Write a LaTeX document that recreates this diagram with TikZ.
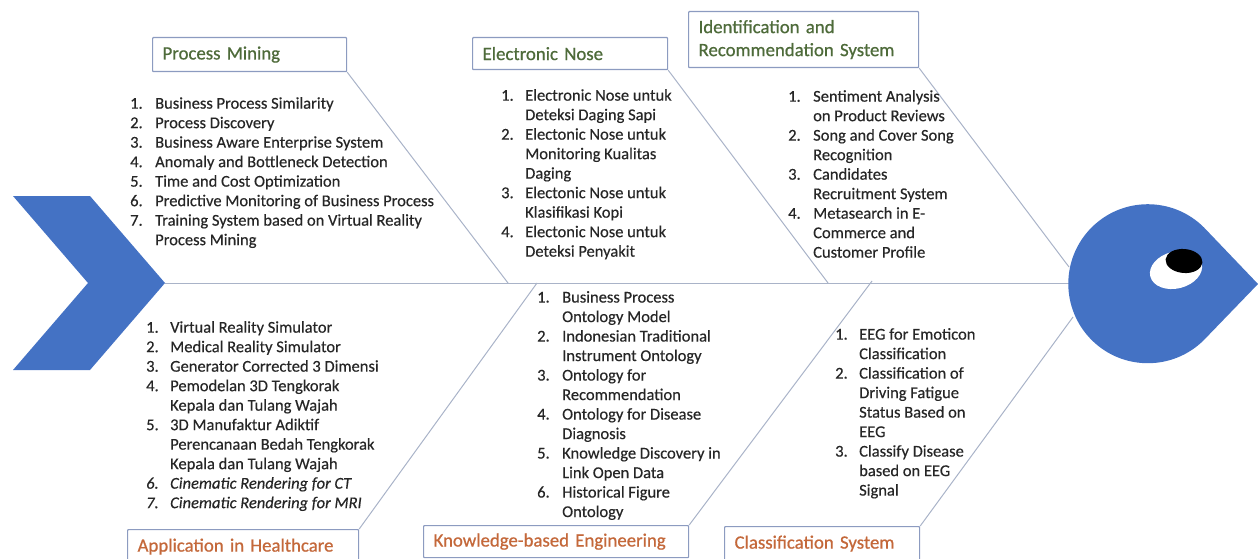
\documentclass[tikz,border=0pt]{standalone}
\usepackage{fontspec}
\setmainfont{Carlito}[FakeBold=0.4]
\newfontfamily\titlefont{Carlito}[FakeBold=0.7]
\newcommand{\li}[2]{\makebox[\listindent][l]{#1}#2}
\newlength{\listindent}
\definecolor{fishblue}{HTML}{4472C4}
\definecolor{bonegrey}{HTML}{A9B3C8}
\definecolor{boxedge}{HTML}{8C9BC0}
\definecolor{titlegreen}{HTML}{4E6B3A}
\definecolor{titleorange}{HTML}{C4683A}
\definecolor{listtext}{HTML}{262626}
\tikzset{
  x=1pt,y=-1pt,
  bone/.style={draw=bonegrey,line width=1pt},
  fishpart/.style={fill=fishblue,draw=none},
  titlebox/.style={draw=boxedge,line width=1.2pt,fill=white,anchor=north west,inner xsep=10pt,inner ysep=0pt,align=left,
    font=\titlefont\fontsize{18.8}{23}\selectfont,rounded corners=0.8pt},
  greentitle/.style={titlebox,text=titlegreen},
  orangetitle/.style={titlebox,text=titleorange},
  listnode/.style={anchor=north west,inner sep=0pt,align=left,text=listtext,font=\fontsize{16.5}{19.5}\selectfont},
}
\begin{document}
\begin{tikzpicture}
\useasboundingbox (0,0) rectangle (1258,559);
% coordinates on the spine
\coordinate (tailtip) at (165,283);
\coordinate (headleft) at (1069,283);
\coordinate (j1) at (508,283);
\coordinate (j2) at (828,283);
\coordinate (j3) at (1069,267);
\coordinate (j4) at (537,283);
\coordinate (j5) at (872,281);
\coordinate (j6) at (1073,317);
% title boxes
\node[greentitle,text width=174pt,minimum height=34pt] (pm) at (152,37) {Process Mining};
\node[greentitle,text width=175pt,minimum height=32pt] (en) at (472,37) {Electronic Nose};
\node[greentitle,text width=210pt,minimum height=56pt] (ir) at (688,11) {Identification and\\Recommendation System};
\node[orangetitle,text width=211pt,minimum height=34pt] (ah) at (127,529) {Application in Healthcare};
\node[orangetitle,text width=245pt,minimum height=32pt] (kb) at (423,525) {Knowledge-based Engineering};
\node[orangetitle,text width=175pt,minimum height=34pt] (cs) at (724,526) {Classification System};
% spine and bones
\draw[bone] (tailtip) -- (headleft);
\draw[bone] (pm.south east) -- (j1);
\draw[bone] (en.south east) -- (j2);
\draw[bone] (ir.south east) -- (j3);
\draw[bone] (ah.north east) -- (j4);
\draw[bone] (kb.north east) -- (j5);
\draw[bone] (cs.north east) -- (j6);
% tail
\fill[fishpart] (13,196) -- (90,196) -- (tailtip) -- (90,370) -- (13,370) -- (88,283) -- cycle;
% head
\fill[fishpart] (1258,284) -- (1204,227.5) arc[start angle=-45,end angle=-315,radius=79.5] -- cycle;
\fill[white,rotate around={14:(1176,270)}] (1176,270) ellipse[x radius=26.5,y radius=18.5];
\fill[black,rotate around={-5:(1184,261)}] (1184,261) ellipse[x radius=18.5,y radius=12];
% lists
\setlength{\listindent}{25pt}
\node[listnode] (l1) at (130,97) {\li{1.}{Business Process Similarity}\\\li{2.}{Process Discovery}\\\li{3.}{Business Aware Enterprise System}\\\li{4.}{Anomaly and Bottleneck Detection}\\\li{5.}{Time and Cost Optimization}\\\li{6.}{Predictive Monitoring of Business Process}\\\li{7.}{Training System based on Virtual Reality}\\\li{}{Process Mining}};
\setlength{\listindent}{24pt}
\node[listnode] (l2) at (501,89) {\li{1.}{Electronic Nose untuk}\\\li{}{Deteksi Daging Sapi}\\\li{2.}{Electonic Nose untuk}\\\li{}{Monitoring Kualitas}\\\li{}{Daging}\\\li{3.}{Electonic Nose untuk}\\\li{}{Klasifikasi Kopi}\\\li{4.}{Electonic Nose untuk}\\\li{}{Deteksi Penyakit}};
\setlength{\listindent}{25pt}
\node[listnode] (l3) at (788,90) {\li{1.}{Sentiment Analysis}\\\li{}{on Product Reviews}\\\li{2.}{Song and Cover Song}\\\li{}{Recognition}\\\li{3.}{Candidates}\\\li{}{Recruitment System}\\\li{4.}{Metasearch in E-}\\\li{}{Commerce and}\\\li{}{Customer Profile}};
\setlength{\listindent}{24pt}
\node[listnode] (l4) at (146,321) {\li{1.}{Virtual Reality Simulator}\\\li{2.}{Medical Reality Simulator}\\\li{3.}{Generator Corrected 3 Dimensi}\\\li{4.}{Pemodelan 3D Tengkorak}\\\li{}{Kepala dan Tulang Wajah}\\\li{5.}{3D Manufaktur Adiktif}\\\li{}{Perencanaan Bedah Tengkorak}\\\li{}{Kepala dan Tulang Wajah}\\\itshape\li{6.}{Cinematic Rendering for CT}\\\itshape\li{7.}{Cinematic Rendering for MRI}};
\setlength{\listindent}{25pt}
\node[listnode] (l5) at (537,291) {\li{1.}{Business Process}\\\li{}{Ontology Model}\\\li{2.}{Indonesian Traditional}\\\li{}{Instrument Ontology}\\\li{3.}{Ontology for}\\\li{}{Recommendation}\\\li{4.}{Ontology for Disease}\\\li{}{Diagnosis}\\\li{5.}{Knowledge Discovery in}\\\li{}{Link Open Data}\\\li{6.}{Historical Figure}\\\li{}{Ontology}};
\setlength{\listindent}{24pt}
\node[listnode] (l6) at (835,328) {\li{1.}{EEG for Emoticon}\\\li{}{Classification}\\\li{2.}{Classification of}\\\li{}{Driving Fatigue}\\\li{}{Status Based on}\\\li{}{EEG}\\\li{3.}{Classify Disease}\\\li{}{based on EEG}\\\li{}{Signal}};
\end{tikzpicture}
\end{document}
